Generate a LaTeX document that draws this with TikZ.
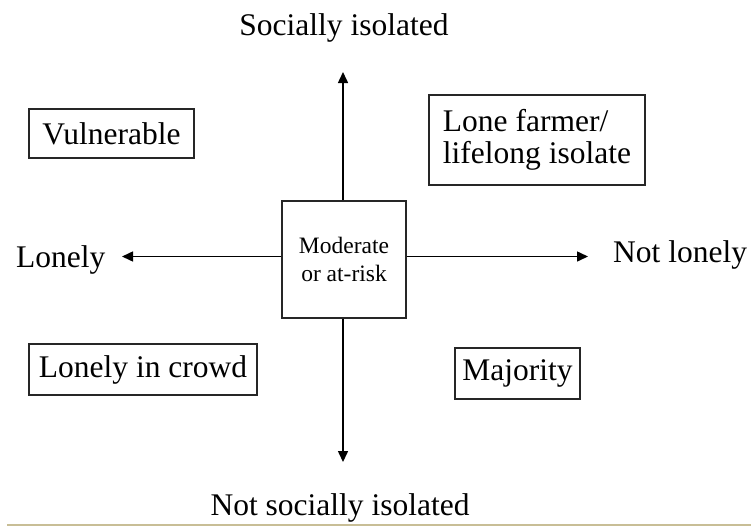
\documentclass[tikz,border=0pt]{standalone}
\usepackage{fontspec}
\setmainfont{Liberation Serif}
\usetikzlibrary{arrows.meta}
\definecolor{rule}{RGB}{200,190,150}
\tikzset{
  lbl/.style={inner sep=0pt, font=\fontsize{31.5}{34}\selectfont},
  qbox/.style={draw=black!85, line width=1.4pt, inner sep=0pt, font=\fontsize{31.5}{32.5}\selectfont},
  axis/.style={line width=1.5pt, -{Triangle[length=11pt,width=10pt]}},
}
\begin{document}
\begin{tikzpicture}[x=1pt,y=-1pt]
\useasboundingbox (0,0) rectangle (751,527);
% centre box
\node[qbox, minimum width=124pt, minimum height=117pt, align=center,
      font=\fontsize{23.5}{28}\selectfont] (c) at (344,259.5) {Moderate\\or at-risk};
% quadrant boxes
\node[qbox, minimum width=165pt, minimum height=49pt] (vul) at (111.5,133.5) {Vulnerable};
\node[qbox, minimum width=216pt, minimum height=90pt, align=left] (lone) at (537,140) {Lone farmer/\\lifelong isolate};
\node[qbox, minimum width=228pt, minimum height=51pt] (crowd) at (143,369.5) {Lonely in crowd};
\node[qbox, minimum width=125pt, minimum height=51pt] (maj) at (517.5,373.5) {Majority};
% axis labels
\node[lbl, anchor=base] (si) at (344,36) {Socially isolated};
\node[lbl, anchor=base] (nsi) at (340,515) {Not socially isolated};
\node[lbl, anchor=base west] (lonely) at (16,267) {Lonely};
\node[lbl, anchor=base west] (notlonely) at (613,262) {Not lonely};
% arrow tips
\coordinate (tU) at (343,72);
\coordinate (tD) at (343,462);
\coordinate (tL) at (122,256.5);
\coordinate (tR) at (588,256.5);
\draw[axis] (tU |- c.north) -- (tU);
\draw[axis] (tD |- c.south) -- (tD);
\draw[axis] (tL -| c.west) -- (tL);
\draw[axis] (tR -| c.east) -- (tR);
% bottom rule
\coordinate (r1) at (7,525);
\coordinate (r2) at (751,525);
\draw[rule, line width=2pt] (r1) -- (r2);
\end{tikzpicture}
\end{document}
